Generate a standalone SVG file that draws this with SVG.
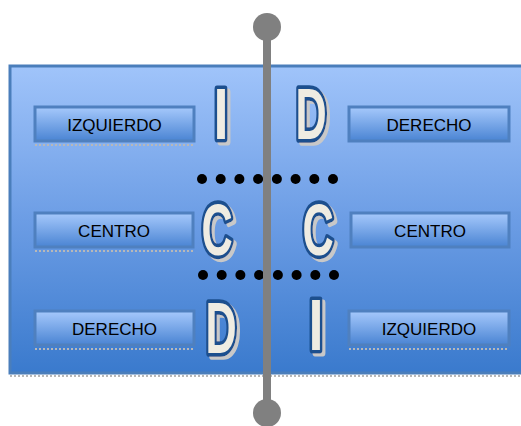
<svg xmlns="http://www.w3.org/2000/svg" width="521" height="426" viewBox="0 0 521 426">
<defs>
<linearGradient id="panelG" x1="0" y1="0" x2="0" y2="1">
<stop offset="0" stop-color="#a0c4fa"/>
<stop offset="0.5" stop-color="#6c9de5"/>
<stop offset="1" stop-color="#3a7acd"/>
</linearGradient>
<linearGradient id="boxG" x1="0" y1="0" x2="0" y2="1">
<stop offset="0" stop-color="#a6c9fc"/>
<stop offset="1" stop-color="#4a84d3"/>
</linearGradient>
<filter id="sh" x="-20%" y="-20%" width="150%" height="150%">
<feOffset dx="3" dy="3" in="SourceAlpha" result="o"/>
<feFlood flood-color="#c8c8c8"/>
<feComposite in2="o" operator="in" result="s"/>
<feMerge><feMergeNode in="s"/><feMergeNode in="SourceGraphic"/></feMerge>
</filter>
</defs>
<style>
.box{fill:url(#boxG);stroke:#4f80bf;stroke-width:3}
.lbl{font-family:"Liberation Sans",Arial,sans-serif;font-size:17px;fill:#000;text-anchor:middle}
.big{font-family:"Liberation Sans",Arial,sans-serif;font-size:72px;font-weight:bold;fill:#efece2;stroke:#1e4f8e;stroke-width:6;paint-order:stroke;stroke-linejoin:round;text-anchor:middle;vector-effect:non-scaling-stroke}
.dot{fill:#000}
.refl{stroke:#b8b8b8;stroke-width:2;stroke-dasharray:2 2}
</style>
<g id="panel">
<rect x="10" y="66" width="520" height="307" fill="url(#panelG)" stroke="#4a7ebb" stroke-width="3"/>
<line x1="10" y1="376" x2="521" y2="376" class="refl"/>
</g>
<g id="box-izq-top">
<rect class="box" x="35" y="107" width="159" height="34"/>
<line x1="35" y1="145" x2="194" y2="145" class="refl"/>
<text class="lbl" x="114.5" y="130.5">IZQUIERDO</text>
</g>
<g id="box-der-top">
<rect class="box" x="349" y="107" width="160" height="34"/>
<text class="lbl" x="429" y="130.5">DERECHO</text>
</g>
<g id="box-cen-left">
<rect class="box" x="35" y="213" width="158" height="34"/>
<line x1="35" y1="251" x2="193" y2="251" class="refl"/>
<text class="lbl" x="114" y="236.5">CENTRO</text>
</g>
<g id="box-cen-right">
<rect class="box" x="351" y="213" width="158" height="34"/>
<text class="lbl" x="430" y="236.5">CENTRO</text>
</g>
<g id="box-der-bottom">
<rect class="box" x="35" y="311" width="159" height="34"/>
<line x1="35" y1="349" x2="194" y2="349" class="refl"/>
<text class="lbl" x="114.5" y="334.5">DERECHO</text>
</g>
<g id="box-izq-bottom">
<rect class="box" x="349" y="311" width="160" height="34"/>
<line x1="349" y1="349" x2="509" y2="349" class="refl"/>
<text class="lbl" x="429" y="334.5">IZQUIERDO</text>
</g>
<g id="letters" filter="url(#sh)">
<text class="big" transform="translate(221,139) scale(0.75,1)" x="0" y="0">I</text>
<text class="big" transform="translate(311,139) scale(0.6,1)" x="0" y="0">D</text>
<text class="big" transform="translate(217,255) scale(0.6,1)" x="0" y="0">C</text>
<text class="big" transform="translate(318,255) scale(0.6,1)" x="0" y="0">C</text>
<text class="big" transform="translate(221,353) scale(0.6,1)" x="0" y="0">D</text>
<text class="big" transform="translate(316,350) scale(0.75,1)" x="0" y="0">I</text>
</g>
<g id="dots">
<circle class="dot" cx="202" cy="179" r="5"/>
<circle class="dot" cx="220.7" cy="179" r="5"/>
<circle class="dot" cx="239.4" cy="179" r="5"/>
<circle class="dot" cx="258.1" cy="179" r="5"/>
<circle class="dot" cx="276.9" cy="179" r="5"/>
<circle class="dot" cx="295.6" cy="179" r="5"/>
<circle class="dot" cx="314.3" cy="179" r="5"/>
<circle class="dot" cx="333" cy="179" r="5"/>
<circle class="dot" cx="203" cy="275" r="5"/>
<circle class="dot" cx="221.7" cy="275" r="5"/>
<circle class="dot" cx="240.4" cy="275" r="5"/>
<circle class="dot" cx="259.1" cy="275" r="5"/>
<circle class="dot" cx="277.9" cy="275" r="5"/>
<circle class="dot" cx="296.6" cy="275" r="5"/>
<circle class="dot" cx="315.3" cy="275" r="5"/>
<circle class="dot" cx="334" cy="275" r="5"/>
</g>
<g id="connectors">
<line x1="267" y1="27" x2="267" y2="413" stroke="#808080" stroke-width="8"/>
<circle cx="267" cy="27" r="14" fill="#808080"/>
<circle cx="267" cy="413" r="14" fill="#808080"/>
</g>
</svg>
